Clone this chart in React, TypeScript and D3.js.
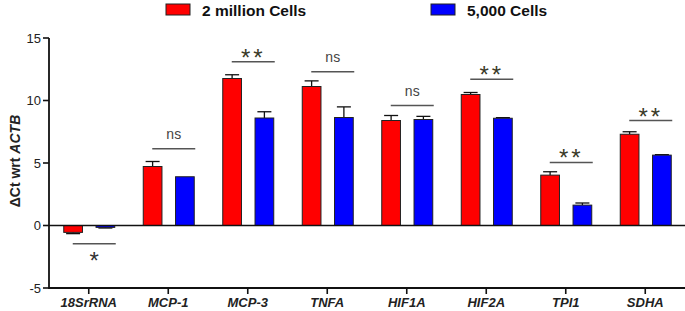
import React from "react";
import * as d3 from "d3";

const categories = ["18SrRNA", "MCP-1", "MCP-3", "TNFA", "HIF1A", "HIF2A", "TPI1", "SDHA"];
const seriesNames = ["2 million Cells", "5,000 Cells"];
const seriesColors = ["#ff0000", "#0000ff"];
const millionValues = [-0.55, 4.72, 11.76, 11.12, 8.4, 10.48, 4.03, 7.3];
const millionErrors = [0.1, 0.4, 0.3, 0.45, 0.4, 0.16, 0.27, 0.2];
const thousandValues = [-0.15, 3.9, 8.6, 8.64, 8.48, 8.58, 1.63, 5.63];
const thousandErrors = [0.05, 0.0, 0.5, 0.85, 0.25, 0.05, 0.17, 0.04];
const significance = ["*", "ns", "**", "ns", "ns", "**", "**", "**"];
const sigLineValues = [-1.45, 6.15, 13.1, 12.3, 9.6, 11.7, 5.05, 8.4];
const yTicks = [-5, 0, 5, 10, 15];

const W = 685;
const H = 311;
const margin = { left: 49, right: 0, top: 38, bottom: 23 };

export default function App() {
  const x = d3.scaleBand<string>().domain(categories).range([margin.left, W]).padding(0);
  const y = d3.scaleLinear().domain([-5, 15]).range([288, 38]);
  const inner = d3.scaleBand<number>().domain([0, 1]).range([-25, 26]).paddingInner(0.42);
  const bw = inner.bandwidth();
  const series = [
    { values: millionValues, errors: millionErrors },
    { values: thousandValues, errors: thousandErrors },
  ];
  const font = "Arial, 'Liberation Sans', sans-serif";

  return (
    <svg width={W} height={H} style={{ position: "absolute", left: 0, top: 0, fontFamily: font }}>
      <rect width={W} height={H} fill="#fff" />
      {/* legend */}
      {seriesNames.map((n, i) => {
        const lx = i === 0 ? 166 : 431;
        return (
          <g key={n}>
            <rect x={lx} y={4} width={24} height={11} fill={seriesColors[i]} stroke="#222" strokeWidth={1} />
            <text x={lx + 36} y={15.5} fontSize={15.5} fontWeight="bold" fill="#111">{n}</text>
          </g>
        );
      })}
      {/* bars */}
      {categories.map((c, ci) => {
        const cx = (x(c) as number) + x.bandwidth() / 2;
        return (
          <g key={c}>
            {series.map((s, si) => {
              const v = s.values[ci];
              const e = s.errors[ci];
              const bx = cx + (inner(si) as number);
              const top = y(Math.max(0, v));
              const bot = y(Math.min(0, v));
              const mid = bx + bw / 2;
              const ey = v >= 0 ? y(v + e) : y(v - e);
              const ev = v >= 0 ? top : bot;
              return (
                <g key={si}>
                  {e > 0 && (
                    <g stroke="#111" strokeWidth={1.3}>
                      <line x1={mid} x2={mid} y1={ev} y2={ey} />
                      <line x1={mid - 7} x2={mid + 7} y1={ey} y2={ey} />
                    </g>
                  )}
                  <rect x={bx} y={top} width={bw} height={Math.max(1, bot - top)} fill={seriesColors[si]} stroke="#222" strokeWidth={1} />
                </g>
              );
            })}
            {/* significance */}
            <line x1={cx - 16} x2={cx + 27} y1={y(sigLineValues[ci])} y2={y(sigLineValues[ci])} stroke="#555" strokeWidth={1.5} />
            {significance[ci] === "ns" ? (
              <text x={cx + 5.5} y={y(sigLineValues[ci]) - 10} textAnchor="middle" fontSize={14} fill="#444">ns</text>
            ) : significance[ci] === "*" && sigLineValues[ci] < 0 ? (
              <text x={cx + 5.5} y={y(sigLineValues[ci]) + 25} textAnchor="middle" fontSize={24} fill="#333">*</text>
            ) : (
              <text x={cx + 5.5} y={y(sigLineValues[ci]) + 4} textAnchor="middle" fontSize={24} fill="#3a3a28" letterSpacing={3}>{significance[ci]}</text>
            )}
          </g>
        );
      })}
      {/* zero line */}
      <line x1={margin.left} x2={W} y1={y(0)} y2={y(0)} stroke="#111" strokeWidth={1.6} />
      {/* y axis */}
      <line x1={margin.left} x2={margin.left} y1={y(15)} y2={y(-5) + 1} stroke="#111" strokeWidth={1.8} />
      {yTicks.map((t) => (
        <g key={t}>
          <line x1={margin.left - 6} x2={margin.left} y1={y(t)} y2={y(t)} stroke="#111" strokeWidth={1.6} />
          <text x={margin.left - 8} y={y(t) + 4.5} textAnchor="end" fontSize={13} fill="#222">{t}</text>
        </g>
      ))}
      {/* x axis */}
      <line x1={margin.left} x2={W} y1={y(-5)} y2={y(-5)} stroke="#111" strokeWidth={1.8} />
      {categories.map((c) => {
        const cx = (x(c) as number) + x.bandwidth() / 2;
        return (
          <g key={c}>
            <line x1={cx} x2={cx} y1={y(-5)} y2={y(-5) + 6} stroke="#111" strokeWidth={1.6} />
            <text x={cx} y={y(-5) + 19} textAnchor="middle" fontSize={13} fontWeight="bold" fontStyle="italic" fill="#222">{c}</text>
          </g>
        );
      })}
      {/* y label */}
      <text transform="translate(19.5,161) rotate(-90)" textAnchor="middle" fontSize={14} fontWeight="bold" fill="#222">
        ΔCt wrt <tspan fontStyle="italic">ACTB</tspan>
      </text>
    </svg>
  );
}
